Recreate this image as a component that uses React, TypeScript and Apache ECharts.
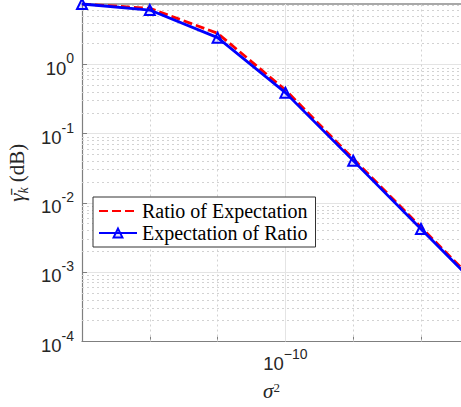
import React, { useEffect, useRef } from 'react';
import * as echarts from 'echarts';

// sigma^2 values (one point per decade)
const sigma2 = [1e-13, 1e-12, 1e-11, 1e-10, 1e-9, 1e-8, 1e-7];
const ratioOfExpectation = [7.44, 6.45, 2.81, 0.427, 0.0435, 0.00445, 0.00046];
const expectationOfRatio = [7.44, 6.09, 2.43, 0.391, 0.0408, 0.00421, 0.000433];
const seriesNames = ['Ratio of Expectation', 'Expectation of Ratio'];
const xLimits = [1e-13, 3.89e-8];
const yLimits = [1e-4, 7.44];
const xLabelDecades = [-10];
const xMinorDecades = [-12, -11, -9, -8];
const yDecades = [-4, -3, -2, -1, 0];
const minorMultipliers = [2, 3, 4, 5, 6, 7, 8, 9];

const lg = Math.log10;

export default function App() {
  const ref = useRef<HTMLDivElement>(null);
  useEffect(() => {
    if (!ref.current) return;
    const chart = echarts.init(ref.current, null, { renderer: 'svg' });
    const yMax = lg(yLimits[1]);
    const yMin = lg(yLimits[0]);
    const yMinor: number[] = [];
    yDecades.forEach((n) => minorMultipliers.forEach((k) => {
      const v = n + lg(k);
      if (v < yMax) yMinor.push(v);
    }));
    const dotted = { color: '#d2d2d2', width: 1, type: [2, 3] as any };
    const solid = { color: '#e4e4e4', width: 1, type: 'solid' as any };
    const sans = 'Liberation Sans';
    const serif = 'Liberation Serif';
    const axisColor = '#7f7f7f';
    const textColor = '#262626';
    const tickRich = {
      base: { fontFamily: sans, fontSize: 18.5, lineHeight: 18.5, padding: [7.5, 0, 0, 0], color: textColor },
      sup: { fontFamily: sans, fontSize: 14, lineHeight: 14, padding: [0, 0, 12, 0], color: textColor },
    };

    const option: any = {
      animation: false,
      grid: { left: 82, top: 4, right: 0, bottom: 65.5, outerBoundsMode: 'none', containLabel: false },
      legend: {
        orient: 'vertical',
        left: 93,
        top: 197,
        z: 10,
        data: [
          { name: seriesNames[0], itemStyle: { opacity: 0 } },
          { name: seriesNames[1] },
        ],
        itemWidth: 38,
        itemHeight: 11,
        itemGap: 2,
        padding: [4, 8, 4, 5],
        borderColor: '#333',
        borderWidth: 1,
        borderRadius: 0,
        backgroundColor: '#fff',
        selectedMode: false,
        textStyle: { fontFamily: serif, fontSize: 20, lineHeight: 20, color: '#000' },
      },
      xAxis: [
        {
          type: 'value',
          position: 'bottom',
          min: lg(xLimits[0]),
          max: lg(xLimits[1]),
          interval: 1,
          axisLine: { show: true, onZero: false, lineStyle: { color: axisColor, width: 1.2 } },
          axisTick: { show: true, inside: true, length: 5, lineStyle: { color: axisColor } },
          splitLine: { show: false },
          axisLabel: {
            margin: 8.75,
            color: textColor,
            formatter: (v: number) => {
              const n = Math.round(v);
              if (Math.abs(v - n) > 1e-6 || xLabelDecades.indexOf(n) < 0) return '';
              return `{base|10}{sup|${String(n).replace('-', '\u2212')}}`;
            },
            rich: tickRich,
          },
          name: '{s|\u03c3}{t|2}',
          nameLocation: 'middle',
          nameGap: 39,
          nameTextStyle: {
            rich: {
              s: { fontFamily: serif, fontStyle: 'italic', fontSize: 21, lineHeight: 21, color: textColor },
              t: { fontFamily: serif, fontSize: 13, lineHeight: 13, padding: [0, 0, 8, 0], color: textColor },
            },
          },
        },
        {
          type: 'value',
          position: 'top',
          min: lg(xLimits[0]),
          max: lg(xLimits[1]),
          axisLine: { show: true, onZero: false, lineStyle: { color: '#a8a8a8', width: 2 } },
          axisTick: { show: false },
          axisLabel: { show: false },
          splitLine: { show: false },
        },
      ],
      yAxis: {
        type: 'value',
        min: yMin,
        max: yMax,
        interval: 1,
        axisLine: { show: true, onZero: false, lineStyle: { color: axisColor, width: 1.2 } },
        axisTick: { show: true, inside: true, length: 5, lineStyle: { color: axisColor } },
        splitLine: { show: true, lineStyle: solid },
        axisLabel: {
          margin: 8,
          color: textColor,
          formatter: (v: number) => {
            const n = Math.round(v);
            if (Math.abs(v - n) > 1e-6) return '';
            return `{base|10}{sup|${n}}`;
          },
          rich: tickRich,
        },
        name: '{g|\u03b3\u0304}{k|k}{d| (dB)}',
        nameLocation: 'middle',
        nameRotate: 90,
        nameGap: 50,
        nameTextStyle: {
          rich: {
            g: { fontFamily: serif, fontStyle: 'italic', fontSize: 21, lineHeight: 21, padding: [0, 0, 3, 0], color: textColor },
            k: { fontFamily: serif, fontStyle: 'italic', fontSize: 14, lineHeight: 14, padding: [10, 0, 0, 0], color: textColor },
            d: { fontFamily: serif, fontSize: 21, lineHeight: 21, padding: [0, 0, 3, 0], color: textColor },
          },
        },
      },
      series: [
        {
          type: 'line',
          silent: true,
          z: 1,
          symbol: 'none',
          lineStyle: { opacity: 0 },
          data: sigma2.map((x, i) => [lg(x), lg(expectationOfRatio[i])]),
          markLine: {
            silent: true,
            z: 1,
            symbol: 'none',
            label: { show: false },
            emphasis: { disabled: true },
            data: [
              ...yMinor.map((v) => ({ yAxis: v, lineStyle: dotted })),
              ...xMinorDecades.map((v) => ({ xAxis: v, lineStyle: dotted })),
              ...xLabelDecades.map((v) => ({ xAxis: v, lineStyle: solid })),
            ],
          },
        },
        {
          name: seriesNames[0],
          type: 'line',
          z: 3,
          symbol: 'none',
          data: sigma2.map((x, i) => [lg(x), lg(ratioOfExpectation[i])]),
          lineStyle: { color: '#ff0000', width: 2.8, type: [9, 4] },
          itemStyle: { color: '#ff0000' },
        },
        {
          name: seriesNames[1],
          type: 'line',
          z: 4,
          symbol: 'triangle',
          symbolSize: 10,
          showSymbol: true,
          data: sigma2.map((x, i) => [lg(x), lg(expectationOfRatio[i])]),
          lineStyle: { color: '#0000ff', width: 2.8 },
          itemStyle: { color: 'rgba(0,0,255,0.12)', borderColor: '#0000ff', borderWidth: 2 },
        },
      ],
    };
    chart.setOption(option);
    return () => chart.dispose();
  }, []);
  return (
    <div style={{ position: 'absolute', left: 0, top: 0, width: 461, height: 407, overflow: 'hidden', background: '#fff' }}>
      <div ref={ref} style={{ width: 461, height: 407 }} />
    </div>
  );
}
